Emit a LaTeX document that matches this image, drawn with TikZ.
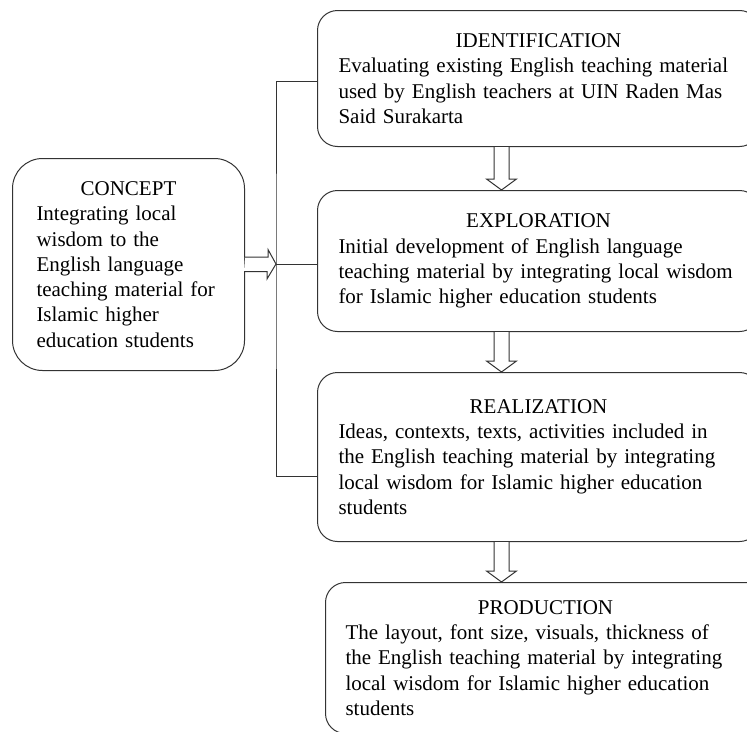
\documentclass[tikz,border=0pt]{standalone}
\usepackage{fontspec}
\setmainfont{Liberation Serif}
\usepackage{tikz}
\usetikzlibrary{calc}

\newcommand{\stagetitle}[1]{\makebox[\linewidth][c]{#1}\\}
\newcommand{\stagearrow}[2]{%
  \draw[hollow] ($(#1.south -| ax)+(-7.5,0)$) -- ($(#2.north -| ax)+(-7.5,-11)$) -- ++(-7.5,0)
    -- (#2.north -| ax) -- ++(15,-11) -- ++(-7.5,0) -- ($(#1.south -| ax)+(7.5,0)$);}

\begin{document}
\begin{tikzpicture}[
  x=1pt, y=-1pt,
  font=\fontsize{21}{25.3}\selectfont,
  stage/.style={rectangle, draw=black!80, line width=1pt, rounded corners=20pt,
    anchor=north west, align=left, inner xsep=21pt, inner ysep=0pt, text width=400pt},
  link/.style={draw=black!80, line width=1pt},
  hollow/.style={draw=black!80, line width=1pt, fill=white, line join=miter}
]
\useasboundingbox (0,0) rectangle (747,731);

\node [stage, rounded corners=30pt, inner xsep=24pt, text width=184pt, minimum height=212pt] (concept) at (12,158)
  {\stagetitle{CONCEPT}Integrating local\\ wisdom to the\\ English language\\ teaching material for\\ Islamic higher\\ education students};

\node [stage, minimum height=136pt] (ident) at (317,10)
  {\stagetitle{IDENTIFICATION}Evaluating existing English teaching material\\ used by English teachers at UIN Raden Mas\\ Said Surakarta};
\node [stage, minimum height=141pt] (explor) at (317,190)
  {\stagetitle{EXPLORATION}Initial development of English language\\ teaching material by integrating local wisdom\\ for Islamic higher education students};
\node [stage, minimum height=169pt] (realiz) at (317,372)
  {\stagetitle{REALIZATION}Ideas, contexts, texts, activities included in\\ the English teaching material by integrating\\ local wisdom for Islamic higher education\\ students};
\node [stage, inner xsep=20pt, minimum height=151pt] (prod) at (325,582)
  {\stagetitle{PRODUCTION}The layout, font size, visuals, thickness of\\ the English teaching material by integrating\\ local wisdom for Islamic higher education\\ students};

\coordinate (bus) at (276,264);
\coordinate (ax) at (501.5,0);

\draw[link] ([yshift=-3pt]ident.west) -| (bus) |- ([yshift=-19pt]realiz.west);
\draw[link] (bus) -- (explor.west |- bus);

\draw[hollow] (concept.east) ++(0,-7.5) -- ++(23,0) -- ++(0,-7.5) -- (bus) -- ++(-9,15) -- ++(0,-7.5) -- ++(-23,0);

\stagearrow{ident}{explor}
\stagearrow{explor}{realiz}
\stagearrow{realiz}{prod}
\end{tikzpicture}
\end{document}
